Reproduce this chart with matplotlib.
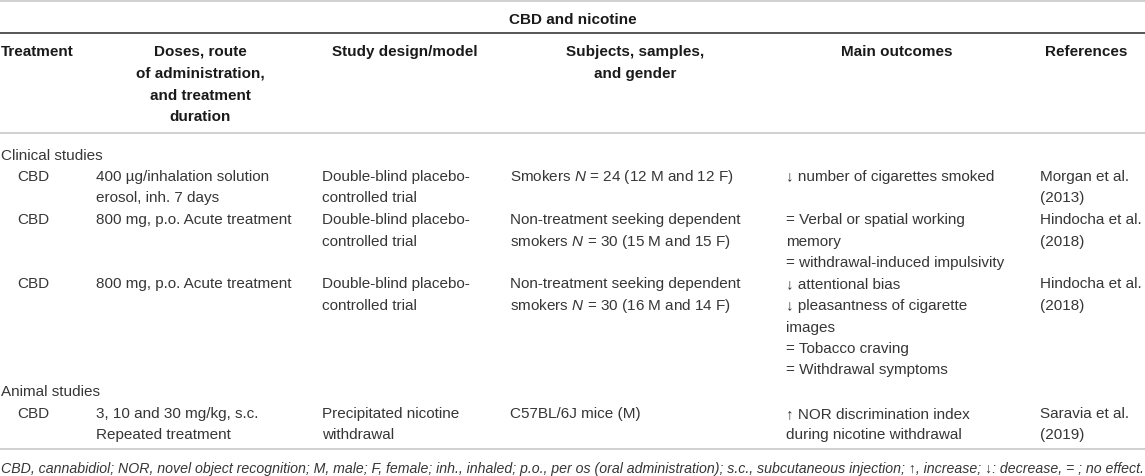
import matplotlib
matplotlib.use("Agg")
import matplotlib.pyplot as plt

plt.rcParams['mathtext.fontset'] = 'custom'
plt.rcParams['mathtext.it'] = 'Liberation Sans:italic'
plt.rcParams['mathtext.rm'] = 'Liberation Sans'

# ---- table content ----
title = "CBD and nicotine"
headers = [["Treatment"],
           ["Doses, route", "of administration,", "and treatment", "duration"],
           ["Study design/model"],
           ["Subjects, samples,", "and gender"],
           ["Main outcomes"],
           ["References"]]
sections = ["Clinical studies", "Clinical studies", "Clinical studies", "Animal studies"]
treatments = ["CBD", "CBD", "CBD", "CBD"]
doses = [["400 µg/inhalation solution", "erosol, inh. 7 days"],
         ["800 mg, p.o. Acute treatment"],
         ["800 mg, p.o. Acute treatment"],
         ["3, 10 and 30 mg/kg, s.c.", "Repeated treatment"]]
designs = [["Double-blind placebo-", "controlled trial"],
           ["Double-blind placebo-", "controlled trial"],
           ["Double-blind placebo-", "controlled trial"],
           ["Precipitated nicotine", "withdrawal"]]
subjects = [["Smokers $N$ = 24 (12 M and 12 F)"],
            ["Non-treatment seeking dependent", "smokers $N$ = 30 (15 M and 15 F)"],
            ["Non-treatment seeking dependent", "smokers $N$ = 30 (16 M and 14 F)"],
            ["C57BL/6J mice (M)"]]
outcomes = [["\u2193 number of cigarettes smoked"],
            ["= Verbal or spatial working", "memory", "= withdrawal-induced impulsivity"],
            ["\u2193 attentional bias", "\u2193 pleasantness of cigarette", "images",
             "= Tobacco craving", "= Withdrawal symptoms"],
            ["\u2191 NOR discrimination index", "during nicotine withdrawal"]]
references = [["Morgan et al.", "(2013)"],
              ["Hindocha et al.", "(2018)"],
              ["Hindocha et al.", "(2018)"],
              ["Saravia et al.", "(2019)"]]
footnote = ("CBD, cannabidiol; NOR, novel object recognition; M, male; F, female; inh., inhaled; "
            "p.o., per os (oral administration); s.c., subcutaneous injection; \u2191, increase; "
            "\u2193: decrease, = ; no effect.")

# ---- layout (pixels, origin top-left) ----
W, H = 1145, 477
fig = plt.figure(figsize=(W / 100, H / 100), dpi=100)
ax = fig.add_axes([0, 0, 1, 1])
ax.set_xlim(0, W)
ax.set_ylim(H, 0)
ax.axis('off')

FAM = ['Liberation Sans', 'DejaVu Sans']
FS = 11
TXT = '#363636'
HDR = '#1a1a1a'
LINE = 21.5
BL = 5.5  # baseline offset below the visual line centre


def put(x, yc, s, **kw):
    ax.text(x, round(yc + BL), s, va='baseline', fontsize=kw.pop('fontsize', FS),
            family=FAM, **kw)


ax.axhline(1.5, color='#c8c8c8', lw=1.2)
put(W / 2, 19, title, ha='center', fontweight='bold', color=HDR)
ax.axhline(34, color='#555555', lw=1.4)

hdr_x = [1, 200, 405, 635, 897, 1086]
hdr_ha = ['left', 'center', 'center', 'center', 'center', 'center']
for h, x, ha in zip(headers, hdr_x, hdr_ha):
    for k, line in enumerate(h):
        put(x, 51 + k * LINE, line, ha=ha, fontweight='bold', color=HDR)
ax.axhline(134, color='#c8c8c8', lw=1.2)

col_x = [17, 96, 322, 510, 786, 1040]
y = 154
prev_sec = None
for i in range(len(treatments)):
    if sections[i] != prev_sec:
        put(1, y, sections[i], ha='left', color=TXT)
        y += LINE
        prev_sec = sections[i]
    cells = [[treatments[i]], doses[i], designs[i], subjects[i], outcomes[i], references[i]]
    nlines = max(len(c) for c in cells)
    for x, cell in zip(col_x, cells):
        for k, line in enumerate(cell):
            put(x, y + k * LINE, line, ha='left', color=TXT)
    y += nlines * LINE

ax.axhline(y - 5, color='#c8c8c8', lw=1.2)
put(1, y + 12.5, footnote, ha='left', fontsize=10.2, style='italic', color=TXT)

fig.savefig('out.png', dpi=100)
